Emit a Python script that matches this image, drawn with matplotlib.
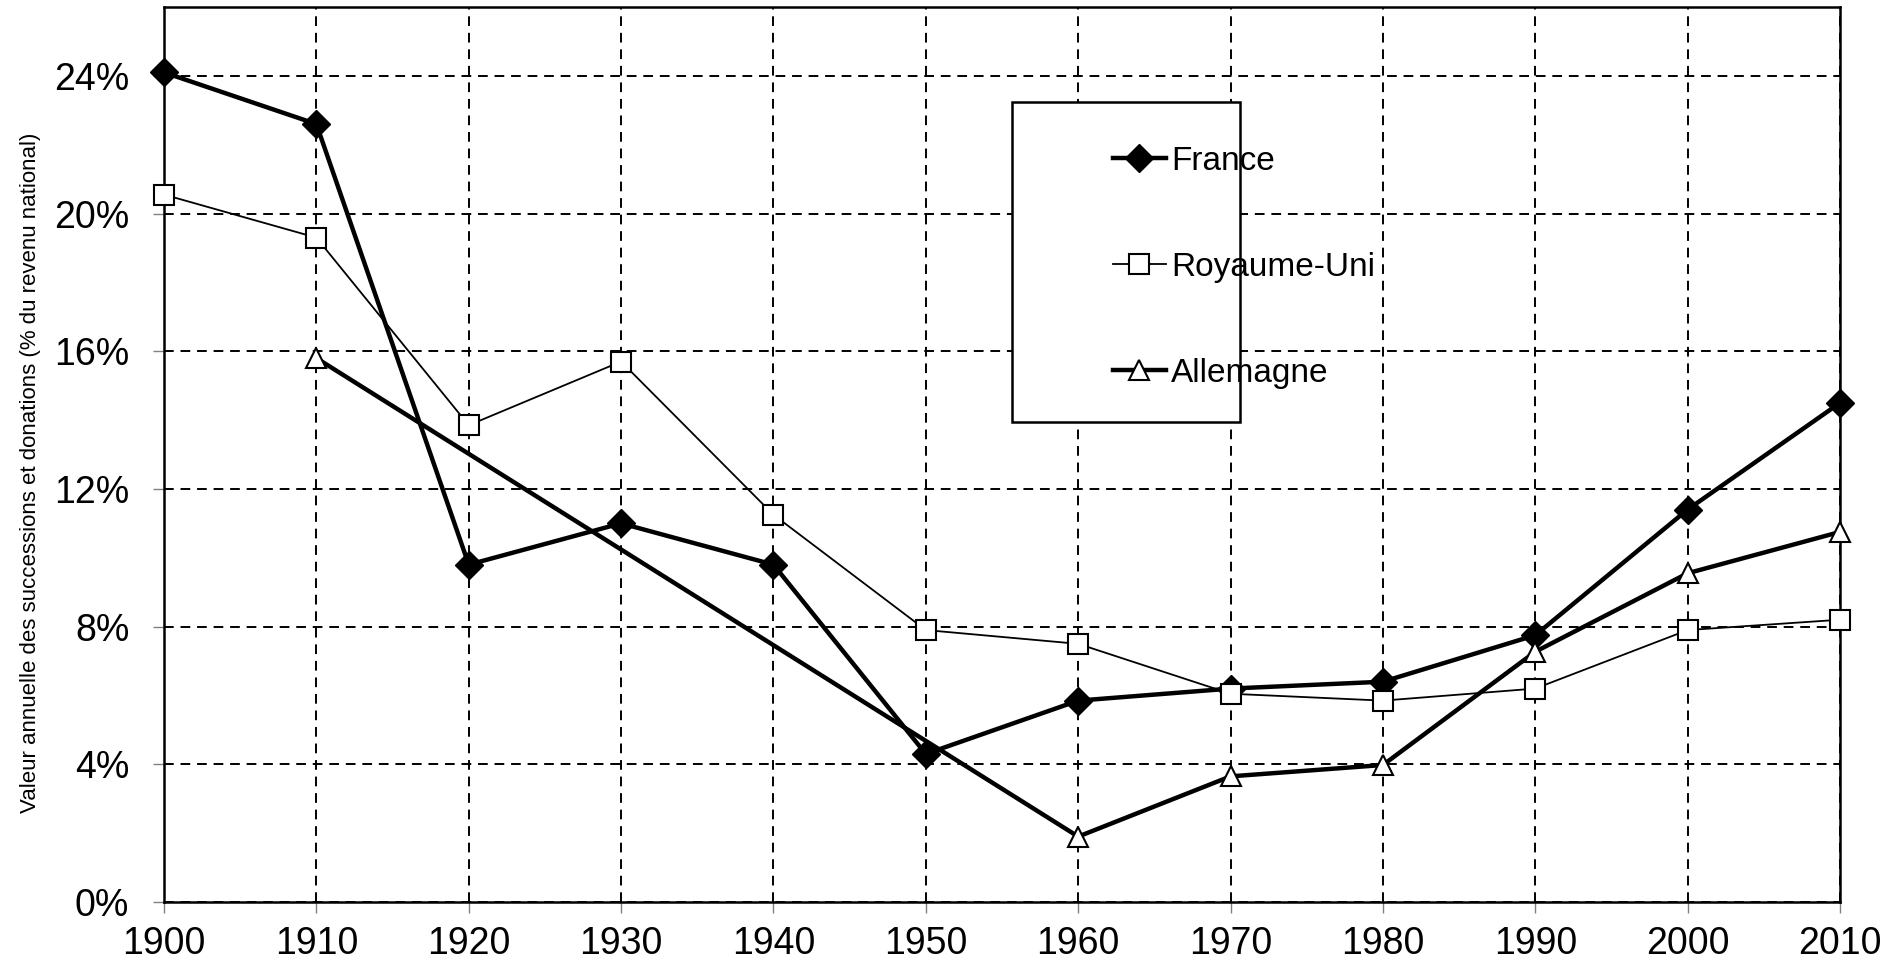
import matplotlib.pyplot as plt
from matplotlib.patches import Rectangle
from matplotlib.ticker import FuncFormatter

plt.rcParams['font.family'] = ['Liberation Sans', 'DejaVu Sans']

years = [1900, 1910, 1920, 1930, 1940, 1950, 1960, 1970, 1980, 1990, 2000, 2010]
france = [24.1, 22.6, 9.8, 11.0, 9.8, 4.3, 5.85, 6.2, 6.4, 7.75, 11.4, 14.5]
uk = [20.55, 19.3, 13.85, 15.7, 11.25, 7.9, 7.5, 6.05, 5.85, 6.2, 7.9, 8.2]
germany_years = [1910, 1960, 1970, 1980, 1990, 2000, 2010]
germany = [15.8, 1.9, 3.65, 3.98, 7.27, 9.55, 10.75]

x_ticks = list(range(1900, 2011, 10))
y_ticks = [0, 4, 8, 12, 16, 20, 24]

fig = plt.figure(figsize=(19.03, 9.68), dpi=100)
ax = fig.add_axes([164 / 1903, 1 - 902 / 968, (1840 - 164) / 1903, (902 - 7) / 968])

ax.plot(years, france, color='black', lw=3.2, marker='D', ms=14,
        mfc='black', mec='black', label='France', zorder=3, clip_on=False)
ax.plot(years, uk, color='black', lw=1.3, marker='s', ms=15,
        mfc='white', mec='black', mew=1.5, label='Royaume-Uni', zorder=3,
        clip_on=False)
ax.plot(germany_years, germany, color='black', lw=3.2, marker='^', ms=15,
        mfc='white', mec='black', mew=1.5, label='Allemagne', zorder=3,
        clip_on=False)

ax.set_xlim(1900, 2010)
ax.set_ylim(0, 26)
ax.set_xticks(x_ticks)
ax.set_yticks(y_ticks)
ax.yaxis.set_major_formatter(FuncFormatter(lambda v, p: '%d%%' % v))
ax.grid(True, color='black', linestyle=(0, (5, 3.5)), linewidth=1.4)
ax.set_axisbelow(True)
ax.tick_params(axis='both', labelsize=27, length=8, width=1, color='#808080',
               direction='out')
ax.tick_params(axis='x', pad=9)
ax.tick_params(axis='y', pad=17)
for s in ax.spines.values():
    s.set_linewidth(1.8)
    s.set_color('black')

ax.set_ylabel('Valeur annuelle des successions et donations (% du revenu national)',
              fontsize=16)
ax.yaxis.set_label_coords(-0.0735, 0.48)

# legend box
ax.add_patch(Rectangle((0.506, 0.536), 0.136, 0.358, transform=ax.transAxes,
                       facecolor='white', edgecolor='black', lw=1.8, zorder=4))
leg = ax.legend(loc='center left', bbox_to_anchor=(0.566, 0.709), frameon=False,
                fontsize=24, handlelength=1.6, handletextpad=0.15,
                labelspacing=2.25, borderpad=0, borderaxespad=0)
leg.set_zorder(5)

fig.savefig('out.png', dpi=100)
